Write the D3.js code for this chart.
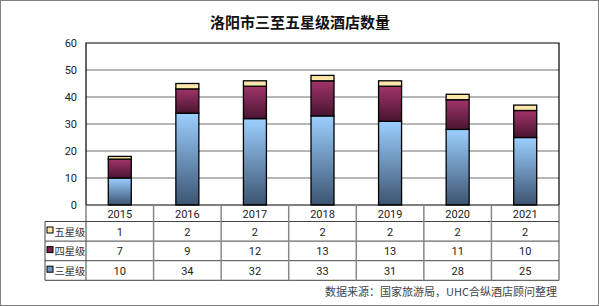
<!DOCTYPE html>
<html><head><meta charset="utf-8">
<script src="https://cdn.jsdelivr.net/npm/d3@7"></script>
<style>body{margin:0;background:#fff}svg{display:block;font-family:"Noto Sans CJK SC","Noto Sans",sans-serif}</style>
</head><body><svg id="c" width="599" height="306"></svg>
<script>
const years = ["2015","2016","2017","2018","2019","2020","2021"];
const seriesNames = ["三星级","四星级","五星级"];
const three = [10,34,32,33,31,28,25];
const four = [7,9,12,13,13,11,10];
const five = [1,2,2,2,2,2,2];
const yTicks = [0,10,20,30,40,50,60];
const title = "洛阳市三至五星级酒店数量";
const source = "数据来源：国家旅游局，UHC合纵酒店顾问整理";

const svg = d3.select("#c");
const W = 599, H = 306;
const L = 86, R = 559, T = 43, B = 205;
svg.append("rect").attr("x",0.5).attr("y",0.5).attr("width",W-1).attr("height",H-1).attr("fill","#fff").attr("stroke","#7f7f7f");

const defs = svg.append("defs");
const g1 = defs.append("linearGradient").attr("id","gb").attr("x1",0).attr("y1",0).attr("x2",0).attr("y2",1);
g1.append("stop").attr("offset","0%").attr("stop-color","#9ccfff");
g1.append("stop").attr("offset","100%").attr("stop-color","#3c5471");
const g2 = defs.append("linearGradient").attr("id","gm").attr("x1",0).attr("y1",0).attr("x2",0).attr("y2",1);
g2.append("stop").attr("offset","0%").attr("stop-color","#a0346a");
g2.append("stop").attr("offset","100%").attr("stop-color","#4a1530");
const fills = ["url(#gb)","url(#gm)","#ffe7ab"];
const swatch = ["#6d93c3","#7a2048","#ffe7ab"];

svg.append("text").attr("x",300).attr("y",28).attr("text-anchor","middle").attr("font-size",15).attr("font-weight","bold").attr("fill","#111").text(title);

const x = d3.scaleBand().domain(years).range([L,R]);
const y = d3.scaleLinear().domain([0,60]).range([B,T]);

svg.append("g").selectAll("line").data(yTicks.filter(d=>d>0&&d<60)).join("line")
  .attr("x1",L).attr("x2",R).attr("y1",d=>y(d)).attr("y2",d=>y(d)).attr("stroke","#6e6e6e").attr("stroke-width",1);
const ya = svg.append("g").attr("transform",`translate(${L-9},0)`).call(d3.axisLeft(y).tickValues(yTicks).tickSize(0).tickPadding(0));
ya.select(".domain").remove();
ya.selectAll("text").attr("font-size",11).attr("fill","#222").attr("font-family","Roboto,'Noto Sans',sans-serif");

const rows = years.map((yr,i)=>({year:yr,"三星级":three[i],"四星级":four[i],"五星级":five[i]}));
const stack = d3.stack().keys(seriesNames)(rows);
const bw = 23;
stack.forEach((s,si)=>{
  svg.append("g").selectAll("rect").data(s).join("rect")
    .attr("x",d=>x(d.data.year)+x.bandwidth()/2-bw/2).attr("width",bw)
    .attr("y",d=>y(d[1])).attr("height",d=>y(d[0])-y(d[1]))
    .attr("fill",fills[si]).attr("stroke","#000").attr("stroke-width",1.3);
});

svg.append("path").attr("d",`M${L},${B}V${T}H${R}V${B}`).attr("fill","none").attr("stroke","#000").attr("stroke-width",1.2);

const tableRows = [{name:"五星级",vals:five,c:2},{name:"四星级",vals:four,c:1},{name:"三星级",vals:three,c:0}];
const LL = 45;
const tg = svg.append("g");
tg.selectAll("text.h").data(years).join("text").attr("class","h")
  .attr("x",d=>x(d)+x.bandwidth()/2).attr("y",B+12.5).attr("text-anchor","middle").attr("font-size",11).attr("fill","#222").attr("font-family","Roboto,'Noto Sans',sans-serif").text(d=>d);
const rowTops = [B+16.5, B+16.5+19.6, B+16.5+39.2];
const bottom = B+16.5+58.8;
tableRows.forEach((r,ri)=>{
  const ty = rowTops[ri];
  tg.selectAll(null).data(r.vals).join("text")
    .attr("x",(d,i)=>x(years[i])+x.bandwidth()/2).attr("y",ty+14).attr("text-anchor","middle")
    .attr("font-size",11).attr("fill","#222").attr("font-family","Roboto,'Noto Sans',sans-serif").text(d=>d);
  tg.append("rect").attr("x",LL+2).attr("y",ty+5.5).attr("width",6).attr("height",6).attr("fill",swatch[r.c]).attr("stroke","#000").attr("stroke-width",1);
  tg.append("text").attr("x",LL+9.5).attr("y",ty+14).attr("font-size",10.3).attr("fill","#333").text(r.name);
});
[rowTops[0],rowTops[1],rowTops[2],bottom].forEach(v=>{
  tg.append("line").attr("x1",LL).attr("x2",R).attr("y1",v).attr("y2",v).attr("stroke","#444").attr("stroke-width",1);
});
tg.append("line").attr("x1",L).attr("x2",R).attr("y1",B).attr("y2",B).attr("stroke","#000").attr("stroke-width",1.2);
years.forEach((yr,i)=>{
  if(i===0) return;
  tg.append("line").attr("x1",x(yr)).attr("x2",x(yr)).attr("y1",B).attr("y2",bottom).attr("stroke","#888").attr("stroke-width",1.5);
});
tg.append("line").attr("x1",L).attr("x2",L).attr("y1",B).attr("y2",bottom).attr("stroke","#444");
tg.append("line").attr("x1",R).attr("x2",R).attr("y1",B).attr("y2",bottom).attr("stroke","#444");
tg.append("line").attr("x1",LL).attr("x2",LL).attr("y1",rowTops[0]).attr("y2",bottom).attr("stroke","#444");

svg.append("text").attr("x",557).attr("y",296).attr("text-anchor","end").attr("font-size",11).attr("fill","#444").text(source);
</script></body></html>
